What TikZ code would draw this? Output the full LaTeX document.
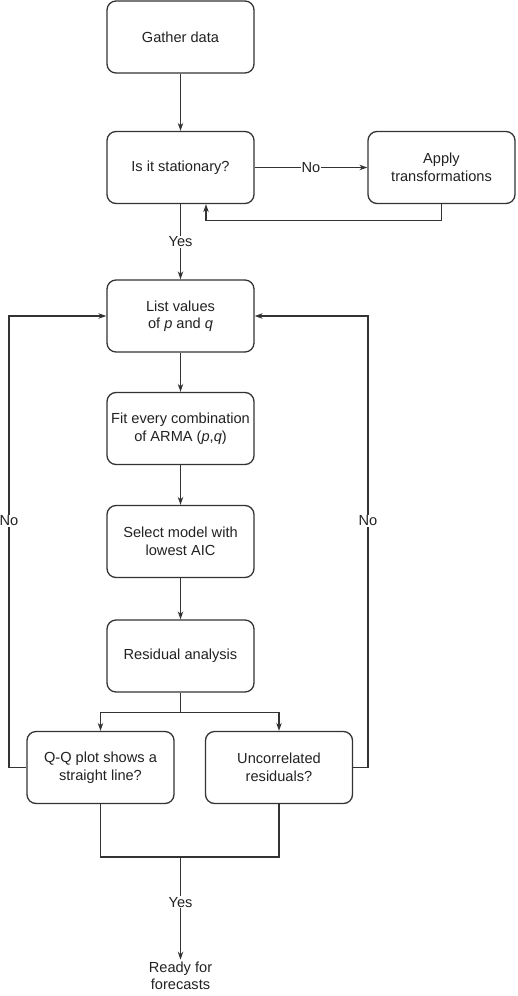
\documentclass[tikz,border=0pt]{standalone}
\usepackage{fontspec}
\setmainfont{Liberation Sans}
\usetikzlibrary{arrows.meta}
\definecolor{ink}{HTML}{222222}
\definecolor{edge}{HTML}{333333}
\begin{document}
\begin{tikzpicture}[x=1pt,y=-1pt,
  font=\fontsize{14.6}{17.5}\selectfont,
  box/.style={draw=edge,line width=1.3pt,rounded corners=9pt,minimum width=147pt,
    minimum height=72pt,align=center,text=ink,fill=white},
  arr/.style={draw=edge,line width=1.3pt,-{Stealth[length=8pt,width=5.5pt]}},
  line/.style={draw=edge,line width=1.3pt},
  lbl/.style={fill=white,inner sep=1pt,text=ink}]
\useasboundingbox (0,0) rectangle (517,996);

% process boxes
\node[box] (gather) at (180.5,37)    {Gather data};
\node[box] (stat)   at (180.5,167.5) {Is it stationary?};
\node[box] (apply)  at (441.5,167.5) {Apply\\transformations};
\node[box] (list)   at (180.5,316)   {List values\\of \textit{p} and \textit{q}};
\node[box] (fit)    at (180.5,428.5) {Fit every combination\\of ARMA (\textit{p},\textit{q})};
\node[box] (select) at (180.5,541.5) {Select model with\\lowest AIC};
\node[box] (resid)  at (180.5,656)   {Residual analysis};
\node[box] (qq)     at (100.5,767.5) {Q-Q plot shows a\\straight line?};
\node[box] (uncorr) at (279,767.5)   {Uncorrelated\\residuals?};
\node[align=center,text=ink,inner sep=2pt] (ready) at (180.5,976) {Ready for\\forecasts};

% main flow
\draw[arr] (gather) -- (stat);
\draw[arr] (stat) -- node[lbl]{No} (apply);
\draw[arr] (apply.south) -- ++(0,16) -| ([xshift=25.5pt]stat.south);
\draw[arr] (stat) -- node[lbl]{Yes} (list);
\draw[arr] (list) -- (fit);
\draw[arr] (fit) -- (select);
\draw[arr] (select) -- (resid);

% split into the two residual checks
\draw[line] (resid.south) -- ++(0,20) coordinate (split);
\draw[arr] (split) -| (qq.north);
\draw[arr] (split) -| (uncorr.north);

% loops back to the parameter list
\draw[arr] (qq.west) -- (qq.west -| 9,0) |- node[lbl,pos=0.273]{No} (list.west);
\draw[arr] (uncorr.east) -- (uncorr.east -| 368,0) |- node[lbl,pos=0.273]{No} (list.east);

% both checks pass
\draw[line] (qq.south) -- (qq.south |- 0,857) -| (uncorr.south);
\coordinate (merge) at (180.5,857);
\draw[arr] (merge) -- node[lbl,pos=0.44]{Yes} (ready.north);
\end{tikzpicture}
\end{document}
